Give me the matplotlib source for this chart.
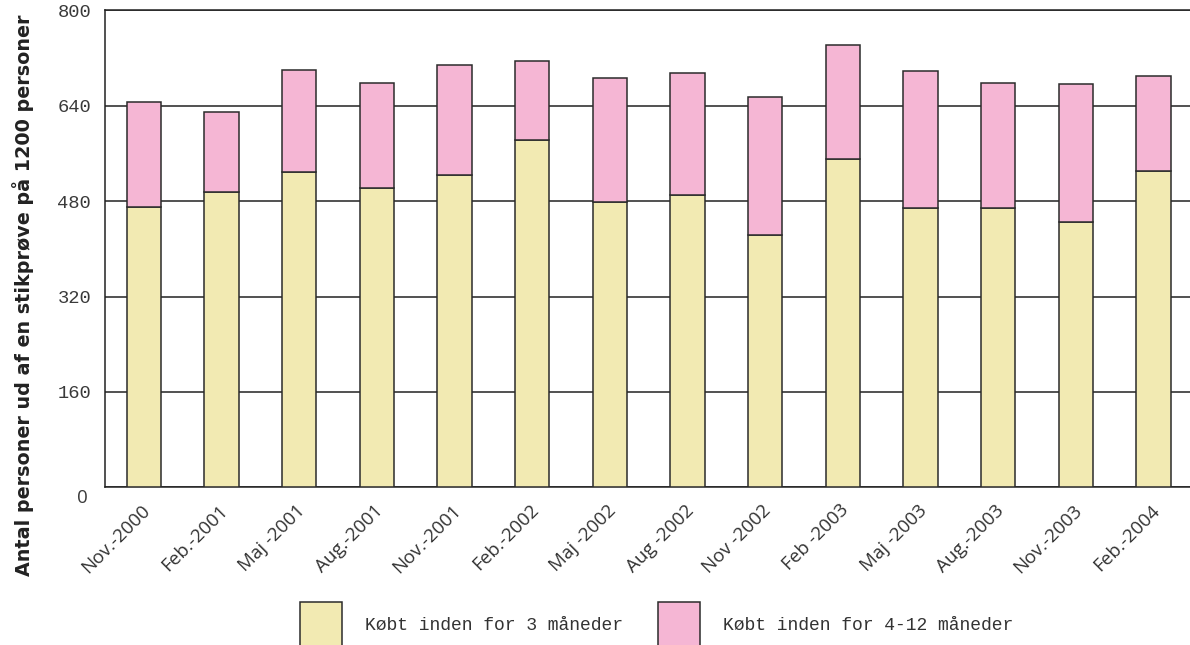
import matplotlib
matplotlib.use("Agg")
import matplotlib.pyplot as plt
import matplotlib.transforms as mtransforms
import numpy as np


# Data
periods = ["Nov.-2000", "Feb.-2001", "Maj -2001", "Aug.-2001", "Nov.-2001",
           "Feb.-2002", "Maj -2002", "Aug -2002", "Nov -2002", "Feb -2003",
           "Maj -2003", "Aug.-2003", "Nov.-2003", "Feb.-2004"]
within_3_months = [470, 496, 529, 502, 524, 582, 479, 491, 423, 551, 468, 468, 445, 531]
within_4_12_months = [176, 134, 171, 176, 185, 133, 208, 204, 231, 190, 230, 210, 232, 158]
y_ticks = [0, 160, 320, 480, 640, 800]

legend_labels = ["Købt inden for 3 måneder", "Købt inden for 4-12 måneder"]
y_label = "Antal personer ud af en stikprøve på 1200 personer"

YELLOW = "#F2EAB2"
PINK = "#F5B6D4"
EDGE = "#2b2b2b"


def main():
    fig = plt.figure(figsize=(11.9, 6.45), dpi=100)
    ax = fig.add_axes([105 / 1190, 1 - 487.3 / 645, 1 - 105 / 1190, (487.3 - 10.3) / 645])

    x = np.arange(len(periods))
    b1 = ax.bar(x, within_3_months, width=0.44, color=YELLOW, edgecolor=EDGE,
                linewidth=1.1, zorder=3)
    b2 = ax.bar(x, within_4_12_months, width=0.44, bottom=within_3_months,
                color=PINK, edgecolor=EDGE, linewidth=1.1, zorder=3)

    ax.set_xlim(-0.5, 13.47)
    ax.set_ylim(0, 800)

    # grid lines and spines
    ax.set_yticks(y_ticks)
    ax.yaxis.grid(True, color="#222222", linewidth=1.1, zorder=0)
    ax.set_axisbelow(True)
    for side in ("left", "top", "bottom"):
        ax.spines[side].set_color("#222222")
        ax.spines[side].set_linewidth(1.1)
    ax.spines["right"].set_visible(False)
    ax.tick_params(axis="both", length=0)

    # y tick labels (mono, the 0 in a sans face a bit lower)
    ax.set_yticklabels([str(t) for t in y_ticks], family="Liberation Mono",
                       fontsize=13.5, color="#3a3a3a")
    ax.tick_params(axis="y", pad=10)
    zero = ax.get_yticklabels()[0]
    zero.set_family("Open Sans")
    zero.set_transform(zero.get_transform() +
                       mtransforms.ScaledTranslation(-0.03, -9 / 100, fig.dpi_scale_trans))

    # x tick labels
    ax.set_xticks(x)
    ax.set_xticklabels(periods, rotation=45, ha="right", va="top",
                       rotation_mode="anchor", family="Open Sans",
                       fontsize=13.5, color="#333333")
    ax.tick_params(axis="x", pad=10)
    offset = mtransforms.ScaledTranslation(-3 / 100, 0, fig.dpi_scale_trans)
    for lbl in ax.get_xticklabels():
        lbl.set_transform(lbl.get_transform() + offset)

    fig.text(0.019, 0.543, y_label, rotation=90, ha="center", va="center",
             fontsize=13.8, fontweight="bold", family="DejaVu Sans",
             color="#222222")

    # legend at the bottom, partly cut by the figure edge
    leg = fig.legend([b1, b2], legend_labels, loc="upper left",
                     bbox_to_anchor=(284 / 1190, 1 - 586 / 645), ncol=2,
                     frameon=False, handlelength=2.33, handleheight=3.4,
                     handletextpad=1.27, columnspacing=1.9,
                     prop={"family": "Liberation Mono", "size": 13})
    for t in leg.get_texts():
        t.set_color("#333333")

    fig.savefig("out.png", dpi=100)


if __name__ == "__main__":
    main()
